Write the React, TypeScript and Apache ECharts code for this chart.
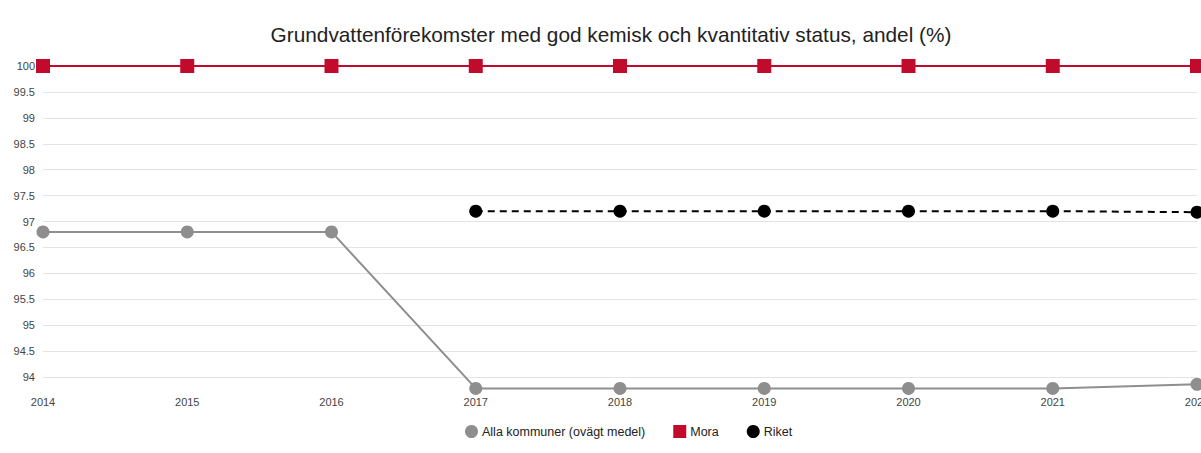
import React, { useEffect, useRef } from "react";
import * as echarts from "echarts";

// Years on the category axis
const years = ["2014", "2015", "2016", "2017", "2018", "2019", "2020", "2021", "2022"];

// Share of groundwater bodies with good chemical and quantitative status (%)
const allaKommuner = [96.8, 96.8, 96.8, 93.78, 93.78, 93.78, 93.78, 93.78, 93.86];
const mora = [100, 100, 100, 100, 100, 100, 100, 100, 100];
const riket = [null, null, null, 97.2, 97.2, 97.2, 97.2, 97.2, 97.18];

// Value-axis tick labels
const yTicks = [94, 94.5, 95, 95.5, 96, 96.5, 97, 97.5, 98, 98.5, 99, 99.5, 100];

const FONT = "'Liberation Sans', Arial, sans-serif";

export default function App() {
  const ref = useRef<HTMLDivElement>(null);

  useEffect(() => {
    if (!ref.current) return;
    const chart = echarts.init(ref.current, undefined, { renderer: "svg" });
    chart.setOption({
      animation: false,
      backgroundColor: "#ffffff",
      textStyle: { fontFamily: FONT },
      title: {
        text: "Grundvattenförekomster med god kemisk och kvantitativ status, andel (%)",
        left: 606,
        textAlign: "center",
        top: 19,
        textStyle: { fontFamily: FONT, fontSize: 20.8, fontWeight: "normal", color: "#222222" },
      },
      legend: {
        left: 460,
        top: 420,
        itemWidth: 13,
        itemHeight: 13,
        itemGap: 28,
        textStyle: { fontFamily: FONT, fontSize: 12.5, color: "#222222", padding: [0, 0, 0, -1] },
        data: [
          { name: "Alla kommuner (ovägt medel)", icon: "circle" },
          { name: "Mora", icon: "rect" },
          { name: "Riket", icon: "circle" },
        ],
      },
      grid: { left: 43, right: 4, top: 66, bottom: 63, containLabel: false, outerBoundsMode: "none" },
      xAxis: {
        type: "category",
        data: years,
        boundaryGap: false,
        axisLine: { show: false },
        axisTick: { show: false },
        axisLabel: { fontFamily: FONT, fontSize: 11, color: "#444444", margin: 6, hideOverlap: false },
        splitLine: { show: false },
      },
      yAxis: {
        type: "value",
        min: 93.75,
        max: 100,
        axisLine: { show: false },
        axisTick: { show: false, customValues: yTicks },
        axisLabel: {
          fontFamily: FONT,
          fontSize: 11,
          color: "#444444",
          margin: 8,
          customValues: yTicks,
        },
        splitLine: { show: true, lineStyle: { color: "#e3e3e3", width: 1 } },
      },
      series: [
        {
          name: "Alla kommuner (ovägt medel)",
          type: "line",
          data: allaKommuner,
          symbol: "circle",
          symbolSize: 13,
          itemStyle: { color: "#8e8e8e" },
          lineStyle: { color: "#8e8e8e", width: 2 },
          z: 2,
        },
        {
          name: "Mora",
          type: "line",
          data: mora,
          symbol: "rect",
          symbolSize: 14,
          itemStyle: { color: "#c20a2c" },
          lineStyle: { color: "#c20a2c", width: 2 },
          z: 3,
        },
        {
          name: "Riket",
          type: "line",
          data: riket,
          symbol: "circle",
          symbolSize: 13,
          itemStyle: { color: "#000000" },
          lineStyle: { color: "#000000", width: 2, type: [7, 5] },
          z: 4,
        },
      ],
    });
    return () => chart.dispose();
  }, []);

  return (
    <div
      ref={ref}
      style={{ position: "fixed", left: 0, top: 0, width: 1201, height: 453, background: "#fff" }}
    />
  );
}
